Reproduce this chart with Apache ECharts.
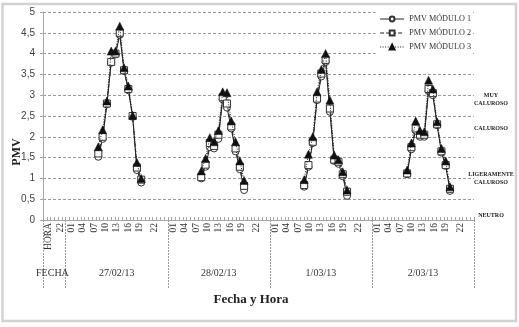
<!DOCTYPE html>
<html><head><meta charset="utf-8">
<script src="https://cdn.jsdelivr.net/npm/echarts@6/dist/echarts.min.js"></script>
<style>html,body{margin:0;padding:0;background:#fff}#c{width:519px;height:327px}</style>
</head><body><div id="c"></div>
<script>
// ---------- data ----------
const dates = ['27/02/13', '28/02/13', '1/03/13', '2/03/13'];
const hours = [7, 8, 9, 10, 11, 12, 13, 14, 15, 16, 17];
const seriesNames = ['PMV MÓDULO 1', 'PMV MÓDULO 2', 'PMV MÓDULO 3'];

const pmvModulo1 = [
  [1.52, 1.95, 2.78, 3.78, 3.98, 4.45, 3.58, 3.12, 2.48, 1.2, 0.9],
  [1.0, 1.28, 1.75, 1.72, 1.95, 2.9, 2.7, 2.2, 1.65, 1.22, 0.72],
  [0.8, 1.28, 1.85, 2.88, 3.45, 3.8, 2.6, 1.42, 1.35, 1.05, 0.58],
  [1.1, 1.7, 2.15, 2.0, 2.0, 3.1, 3.0, 2.28, 1.62, 1.3, 0.7]
];
const pmvModulo2 = [
  [1.6, 2.0, 2.8, 3.8, 4.0, 4.5, 3.6, 3.15, 2.5, 1.26, 0.97],
  [1.03, 1.33, 1.85, 1.78, 2.05, 2.95, 2.8, 2.25, 1.72, 1.28, 0.82],
  [0.84, 1.32, 1.88, 2.92, 3.52, 3.85, 2.68, 1.45, 1.4, 1.1, 0.68],
  [1.12, 1.75, 2.2, 2.05, 2.05, 3.15, 3.05, 2.3, 1.65, 1.32, 0.75]
];
const pmvModulo3 = [
  [1.76, 2.17, 2.86, 4.06, 4.06, 4.66, 3.66, 3.22, 2.52, 1.38, 1.0],
  [1.18, 1.48, 1.98, 1.88, 2.15, 3.08, 3.06, 2.38, 1.88, 1.42, 0.95],
  [0.97, 1.58, 2.0, 3.08, 3.62, 4.0, 2.88, 1.56, 1.45, 1.16, 0.72],
  [1.2, 1.85, 2.38, 2.15, 2.12, 3.36, 3.15, 2.36, 1.72, 1.42, 0.8]
];
const yTicks = [0, 0.5, 1, 1.5, 2, 2.5, 3, 3.5, 4, 4.5, 5];
const hourTickLabels = ['01', '04', '07', '10', '13', '16', '19', '22'];
const headerHourLabels = ['HORA', '22'];
const headerDateLabel = 'FECHA';
const zoneLabels = ['MUY\nCALUROSO', 'CALUROSO', 'LIGERAMENTE\nCALUROSO', 'NEUTRO'];
const zoneValues = [2.9, 2.2, 1.0, 0.1];

// ---------- layout of the multi-level category axis ----------
const LEAD_SLOTS = 6, DAY_SLOTS = 27;
const headerHourSlots = [1, 4];
const hourLabelSlots = [1, 4, 7, 10, 13, 16, 19, 23];
const fechaSlot = 2, dateSlot = 13;
const TOTAL_SLOTS = LEAD_SLOTS + DAY_SLOTS * dates.length;

const hourText = new Array(TOTAL_SLOTS).fill('');
const dateText = new Array(TOTAL_SLOTS).fill('');
headerHourSlots.forEach((s, i) => hourText[s] = headerHourLabels[i]);
dates.forEach((d, di) => {
  hourLabelSlots.forEach((s, i) => hourText[LEAD_SLOTS + di * DAY_SLOTS + s] = hourTickLabels[i]);
  dateText[LEAD_SLOTS + di * DAY_SLOTS + dateSlot] = d;
});
dateText[fechaSlot] = headerDateLabel;
const boundaries = new Set([0, LEAD_SLOTS]);
dates.forEach((d, di) => boundaries.add(LEAD_SLOTS + di * DAY_SLOTS));
const slotCats = hourText.map((t, i) => 's' + i);

const serif = 'Liberation Serif';
const modules = [pmvModulo1, pmvModulo2, pmvModulo3];
const styles = [
  { symbol: 'circle', symbolSize: 7, itemStyle: { color: '#fff', borderColor: '#333', borderWidth: 1 }, lineStyle: { color: '#222', width: 1, type: 'solid' } },
  { symbol: 'rect', symbolSize: 7, itemStyle: { color: '#fff', borderColor: '#333', borderWidth: 1 }, lineStyle: { color: '#222', width: 1, type: [4, 2] } },
  { symbol: 'triangle', symbolSize: 8, itemStyle: { color: '#111', borderColor: '#111', borderWidth: 0.5 }, lineStyle: { color: '#222', width: 1, type: [1, 1.5] } }
];

const series = [];
modules.forEach((mod, mi) => {
  mod.forEach((dayVals, di) => {
    series.push(Object.assign({
      name: seriesNames[mi], type: 'line', xAxisIndex: 0, yAxisIndex: 0,
      data: dayVals.map((v, k) => [di * 24 + hours[k], v]),
      animation: false, z: 2 + mi
    }, JSON.parse(JSON.stringify(styles[mi]))));
  });
});

const chart = echarts.init(document.getElementById('c'), null, { renderer: 'canvas' });
chart.setOption({
  backgroundColor: '#fff',
  animation: false,
  grid: { left: 43, right: 45, top: 12, bottom: 107, containLabel: false },
  legend: {
    data: seriesNames, orient: 'vertical', right: 46, top: 12,
    itemWidth: 24, itemHeight: 6, itemGap: 6,
    backgroundColor: '#fff', padding: [3, 2, 3, 4],
    lineStyle: { width: 1 },
    textStyle: { fontFamily: serif, fontSize: 8.2, color: '#333' }
  },
  xAxis: [
    { type: 'value', min: -5.9, max: 94.6, show: false },
    {
      type: 'category', position: 'bottom', data: slotCats, boundaryGap: true,
      axisLine: { show: true, onZero: false, lineStyle: { color: '#a6a6a6', width: 1 } },
      axisTick: { show: true, inside: true, length: 3, interval: 0, lineStyle: { color: '#a6a6a6' } },
      axisLabel: {
        interval: (i) => hourText[i] !== '', formatter: (v, i) => hourText[i],
        rotate: 90, margin: 3, fontFamily: serif, fontSize: 9.5, color: '#333'
      },
      splitLine: { show: false }
    },
    {
      type: 'category', position: 'bottom', data: slotCats, boundaryGap: true,
      axisLine: { show: false, onZero: false },
      axisTick: { show: true, interval: (i) => boundaries.has(i), length: 68, lineStyle: { color: '#9a9a9a', type: [2, 1] } },
      axisLabel: {
        interval: (i) => dateText[i] !== '', formatter: (v, i) => dateText[i],
        margin: 48, fontFamily: serif, fontSize: 10, color: '#333'
      },
      splitLine: { show: false }
    }
  ],
  yAxis: [{
    type: 'value', min: yTicks[0], max: yTicks[yTicks.length - 1], interval: 0.5,
    axisLine: { show: true, onZero: false, lineStyle: { color: '#a6a6a6' } },
    axisTick: { show: true, length: 3, lineStyle: { color: '#a6a6a6' } },
    axisLabel: { formatter: (v) => String(v).replace('.', ','), fontFamily: 'Liberation Sans', fontSize: 10, color: '#404040', margin: 8 },
    splitLine: { show: true, lineStyle: { color: '#9a9a9a', type: [3, 2], width: 1 } }
  }],
  series: series
});

const zoneGraphics = zoneLabels.map((t, i) => ({
  type: 'text', x: 491, y: chart.convertToPixel({ yAxisIndex: 0 }, zoneValues[i]),
  style: { text: t, fontFamily: serif, fontWeight: 'bold', fontSize: 6, fill: '#222', align: 'center', verticalAlign: 'middle', lineHeight: 8 }
}));
chart.setOption({
  graphic: [
    { type: 'rect', shape: { x: 2.5, y: 4, width: 513.5, height: 317 }, style: { fill: null, stroke: '#d2d2d2', lineWidth: 2.5 }, silent: true, z: -1 },
    { type: 'text', x: 17, y: 152, rotation: Math.PI / 2, style: { text: 'PMV', fontFamily: serif, fontWeight: 'bold', fontSize: 12, fill: '#222', align: 'center', verticalAlign: 'middle' } },
    { type: 'text', x: 251, y: 300, style: { text: 'Fecha y Hora', fontFamily: serif, fontWeight: 'bold', fontSize: 13, fill: '#222', align: 'center', verticalAlign: 'middle' } }
  ].concat(zoneGraphics)
});
</script></body></html>
